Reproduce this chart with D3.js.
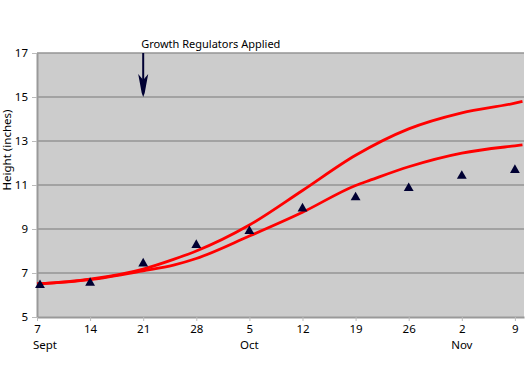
<!DOCTYPE html>
<html>
<head>
<script src="https://d3js.org/d3.v7.min.js"></script>
<style>
  body { margin: 0; background: #fff; font-family: "Noto Sans", sans-serif; }
  .axis text { font-size: 11.5px; fill: #000; font-family: "Noto Sans", sans-serif; }
</style>
</head>
<body>
<div id="chart"></div>
<script>
// weekly tick dates (labels show day of month)
var weekDates = ["2003-09-07","2003-09-14","2003-09-21","2003-09-28","2003-10-05",
                 "2003-10-12","2003-10-19","2003-10-26","2003-11-02","2003-11-09"];
var monthLabels = [["2003-09-07","Sept"],["2003-10-05","Oct"],["2003-11-02","Nov"]];
var yTicks = [5, 7, 9, 11, 13, 15, 17];

// measured heights (triangles)
var measured = [6.45, 6.55, 7.43, 8.27, 8.9, 9.93, 10.44, 10.86, 11.41, 11.68];

// upper predicted curve
var upperDates = ["2003-09-07","2003-09-14","2003-09-21","2003-09-25","2003-09-28","2003-10-05",
                  "2003-10-12","2003-10-19","2003-10-26","2003-11-02","2003-11-09","2003-11-10"];
var upperVals  = [6.5, 6.72, 7.18, 7.62, 8.0, 9.18, 10.75, 12.35, 13.55, 14.28, 14.72, 14.8];

// lower predicted curve
var lowerDates = ["2003-09-07","2003-09-14","2003-09-21","2003-09-25","2003-09-28","2003-10-05",
                  "2003-10-12","2003-10-19","2003-10-21","2003-10-26","2003-11-02","2003-11-09","2003-11-10"];
var lowerVals  = [6.5, 6.7, 7.1, 7.36, 7.66, 8.68, 9.76, 10.98, 11.23, 11.83, 12.45, 12.78, 12.82];

var parse = d3.timeParse("%Y-%m-%d");

var width = 525, height = 366;
var margin = {top: 53, right: 1, bottom: 49, left: 37};

var svg = d3.select("#chart").append("svg")
    .attr("width", width)
    .attr("height", height);

var start = parse("2003-09-07");
var end = new Date(start.getTime() + 64.2 * 864e5);

var x = d3.scaleTime().domain([start, end]).range([margin.left, width - margin.right]);
var y = d3.scaleLinear().domain([5, 17]).range([height - margin.bottom, margin.top]);

// plot background
svg.append("rect")
    .attr("x", x(start)).attr("y", y(17))
    .attr("width", x(end) - x(start)).attr("height", y(5) - y(17))
    .attr("fill", "#cccccc");

// gridlines
svg.selectAll(".grid").data(yTicks.slice(1)).enter().append("line")
    .attr("x1", x(start)).attr("x2", x(end))
    .attr("y1", function(d) { return y(d); })
    .attr("y2", function(d) { return y(d); })
    .attr("stroke", "#959595")
    .attr("stroke-width", 1.5);

// y axis
var yAxis = d3.axisLeft(y).tickValues(yTicks).tickSize(5).tickSizeOuter(0).tickPadding(4);
var gy = svg.append("g").attr("class", "axis")
    .attr("transform", "translate(" + x(start) + ",0)")
    .call(yAxis);
gy.select(".domain").attr("stroke", "#999").attr("stroke-width", 2);
gy.selectAll(".tick line").attr("stroke", "#bbb");

// x axis
var xAxis = d3.axisBottom(x).tickValues(weekDates.map(parse))
    .tickFormat(d3.timeFormat("%-d")).tickSize(4).tickSizeOuter(0).tickPadding(4);
var gx = svg.append("g").attr("class", "axis")
    .attr("transform", "translate(0," + y(5) + ")")
    .call(xAxis);
gx.select(".domain").attr("stroke", "#999").attr("stroke-width", 2);
gx.selectAll(".tick line").attr("stroke", "#bbb");

// month labels
svg.selectAll(".month").data(monthLabels).enter().append("text")
    .attr("x", function(d, i) { return x(parse(d[0])) + (i == 0 ? -4 : 0); })
    .attr("y", y(5) + 32)
    .attr("text-anchor", function(d, i) { return i == 0 ? "start" : "middle"; })
    .style("font-size", "11.5px")
    .text(function(d) { return d[1]; });

// y label
svg.append("text")
    .attr("transform", "translate(11,150) rotate(-90)")
    .attr("text-anchor", "middle")
    .style("font-size", "11.5px")
    .text("Height (inches)");

// predicted lines
var line = d3.line()
    .x(function(d) { return x(d.date); })
    .y(function(d) { return y(d.value); })
    .curve(d3.curveMonotoneX);

var upper = upperDates.map(function(d, i) { return {date: parse(d), value: upperVals[i]}; });
var lower = lowerDates.map(function(d, i) { return {date: parse(d), value: lowerVals[i]}; });

[upper, lower].forEach(function(series) {
    svg.append("path")
        .attr("d", line(series))
        .attr("fill", "none")
        .attr("stroke", "#ff0000")
        .attr("stroke-width", 2.8);
});

// measured triangles
var tri = d3.symbol().type(d3.symbolTriangle).size(42);
svg.selectAll(".pt").data(measured).enter().append("path")
    .attr("d", tri)
    .attr("transform", function(d, i) {
        return "translate(" + (x(parse(weekDates[i])) + (i == 0 ? 3 : 0)) + "," + y(d) + ")";
    })
    .attr("fill", "#000033");

// growth regulator arrow
var ax = x(parse("2003-09-21"));
svg.append("line")
    .attr("x1", ax).attr("x2", ax)
    .attr("y1", y(17)).attr("y2", y(15.6))
    .attr("stroke", "#000033").attr("stroke-width", 2);
var a0 = y(16.05), tip = y(15);
svg.append("path")
    .attr("d", "M" + (ax - 5) + "," + a0 + " L" + ax + "," + (a0 + 6) + " L" + (ax + 5) + "," + a0 +
               " L" + (ax + 1.5) + "," + (tip - 4) + " L" + ax + "," + tip + " L" + (ax - 1.5) + "," + (tip - 4) + " Z")
    .attr("fill", "#000033");

svg.append("text")
    .attr("x", ax - 2)
    .attr("y", y(17) - 5)
    .style("font-size", "11px")
    .text("Growth Regulators Applied");
</script>
</body>
</html>
